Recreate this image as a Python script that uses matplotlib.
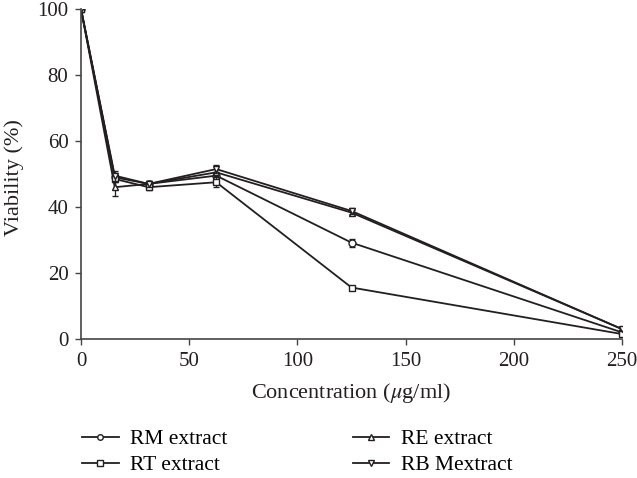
import matplotlib
matplotlib.use('Agg')
import matplotlib.pyplot as plt

conc = [0, 15.6, 31.25, 62.5, 125, 250]
rm = [100, 49.0, 47.0, 49.5, 29.2, 2.0]
rm_err = [0, 1.2, 0.8, 1.0, 1.2, 0.3]
rt = [100, 48.5, 46.0, 47.5, 15.6, 1.5]
rt_err = [0, 1.0, 0.8, 1.5, 0.5, 0.3]
re = [100, 46.0, 47.0, 50.5, 38.3, 3.0]
re_err = [0, 2.8, 0.8, 1.0, 0.8, 0.3]
rb = [100, 49.5, 47.0, 51.5, 38.8, 3.0]
rb_err = [0, 1.5, 0.8, 1.2, 0.8, 0.3]

series = [
    ('RM extract', rm, rm_err, 'o'),
    ('RE extract', re, re_err, '^'),
    ('RT extract', rt, rt_err, 's'),
    ('RB Mextract', rb, rb_err, 'v'),
]

FG = '#231f20'
AX = '#444444'
plt.rcParams.update({
    'font.family': ['Liberation Serif', 'DejaVu Serif'],
    'mathtext.fontset': 'stix',
    'font.size': 15,
})

fig = plt.figure(figsize=(6.37, 4.78), dpi=100)
ax = fig.add_axes([81 / 637, 1 - 339 / 478, 541 / 637, 330 / 478])

handles = {}
for name, vals, err, mk in series:
    ax.errorbar(conc, vals, yerr=err, fmt='none', ecolor=FG, elinewidth=0.9, capsize=2.5)
    h, = ax.plot(conc, vals, color=FG, linewidth=1.3, marker=mk, markersize=5,
                 markerfacecolor='white', markeredgecolor=FG, markeredgewidth=1.0, label=name)
    handles[name] = h

ax.set_xlim(0, 250)
ax.set_ylim(0, 100)
ax.set_xticks([0, 50, 100, 150, 200, 250])
ax.set_yticks([0, 20, 40, 60, 80, 100])
ax.spines['top'].set_visible(False)
ax.spines['right'].set_visible(False)
for s in ('left', 'bottom'):
    ax.spines[s].set_color(AX)
    ax.spines[s].set_linewidth(1.2)
ax.tick_params(direction='out', length=4, width=1.0, color=AX, labelcolor=FG, pad=5)
ax.set_xlabel(r'Concentration ($\mu$g/ml)', color=FG, fontsize=16, va='center')
ax.xaxis.set_label_coords(0.5, -0.164)
ax.set_ylabel('Viability (%)', color=FG, fontsize=16, va='center')
ax.yaxis.set_label_coords(-0.124, 0.49)

order = ['RM extract', 'RT extract', 'RE extract', 'RB Mextract']
leg_handles = []
for n in order:
    h = handles[n]
    lh, = ax.plot([], [], color=FG, linewidth=1.3, marker=h.get_marker(), markersize=4,
                  markerfacecolor='white', markeredgecolor=FG, markeredgewidth=1.0)
    leg_handles.append(lh)
fig.legend(leg_handles, order, loc='upper left', bbox_to_anchor=(82 / 637, 1 - 429 / 478),
           ncol=2, frameon=False, borderpad=0, borderaxespad=0, columnspacing=5.8,
           handlelength=1.7, handletextpad=0.55, labelspacing=0.28, fontsize=15.5)

fig.savefig('out.png', dpi=100)
